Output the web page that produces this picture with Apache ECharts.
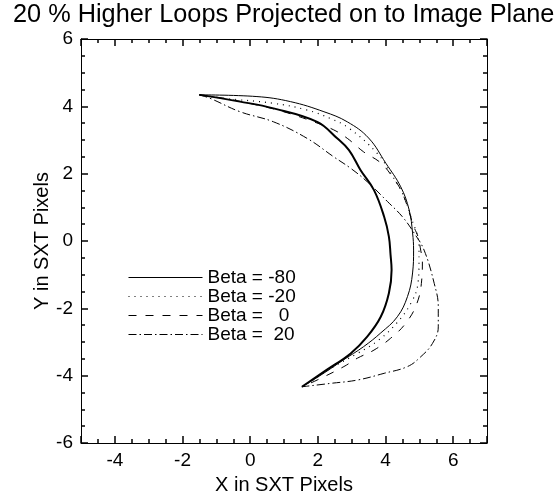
<!DOCTYPE html>
<html><head><meta charset="utf-8">
<script src="https://cdn.jsdelivr.net/npm/echarts@6/dist/echarts.min.js"></script>
<style>html,body{margin:0;padding:0;background:#fff}#c{width:556px;height:495px}</style>
</head><body><div id="c"></div>
<script>
const FONT = "'Liberation Sans', Arial, sans-serif";
const titleText = '20 % Higher Loops Projected on to Image Plane';
const xName = 'X in SXT Pixels';
const yName = 'Y in SXT Pixels';
const legendNames = ['Beta = -80', 'Beta = -20', 'Beta =   0', 'Beta =  20'];

// reference (original) loop, thick solid, not in legend
const baseLoop = [[-1.50,4.34],[-0.30,4.14],[0.69,3.94],[1.98,3.54],[2.57,3.05],[2.92,2.70],[3.26,2.11],[3.66,1.51],[3.96,0.72],[4.10,0.13],[4.15,-0.42],[4.18,-0.86],[4.10,-1.55],[3.86,-2.25],[3.46,-2.84],[2.97,-3.34],[2.26,-3.83],[1.53,-4.33]];
const betaM80 = [[-1.50,4.34],[0.20,4.29],[1.19,4.14],[2.18,3.84],[2.87,3.54],[3.50,3.06],[4.01,2.31],[4.45,1.61],[4.70,0.92],[4.80,0.24],[4.83,-0.27],[4.80,-0.95],[4.65,-1.65],[4.35,-2.25],[3.86,-2.73],[3.35,-3.14],[2.76,-3.53],[2.14,-3.95],[1.53,-4.33]];
const betaM20 = [[-1.50,4.34],[-0.79,4.24],[0.69,4.09],[1.68,3.89],[2.37,3.64],[2.92,3.35],[3.76,2.60],[4.15,2.02],[4.50,1.42],[4.75,0.72],[4.99,-0.17],[4.99,-0.62],[4.96,-1.26],[4.75,-1.85],[4.33,-2.44],[3.80,-2.94],[3.17,-3.34],[2.47,-3.73],[1.78,-4.18],[1.53,-4.33]];
const beta0 = [[-1.50,4.34],[-0.79,4.24],[0.20,4.04],[0.99,3.84],[1.88,3.54],[2.47,3.30],[2.87,3.05],[3.35,2.65],[3.86,2.32],[4.20,1.91],[4.50,1.42],[4.84,0.42],[4.96,0.13],[5.04,-0.27],[5.09,-0.62],[5.07,-1.16],[4.93,-1.85],[4.60,-2.44],[4.15,-2.89],[3.66,-3.24],[3.17,-3.48],[2.77,-3.73],[1.98,-4.13],[1.53,-4.33]];
const beta20 = [[-1.50,4.34],[-1.19,4.24],[-0.30,3.84],[0.69,3.54],[1.68,3.05],[2.47,2.50],[2.97,2.16],[3.46,1.76],[4.06,1.17],[4.50,0.72],[4.85,0.23],[5.14,-0.27],[5.44,-1.26],[5.56,-1.95],[5.56,-2.55],[5.39,-3.04],[5.04,-3.44],[4.65,-3.73],[3.96,-3.93],[3.17,-4.13],[2.37,-4.23],[1.53,-4.33]];

const xMin = -5, xMax = 7, yMin = -6, yMax = 6;

const chart = echarts.init(document.getElementById('c'));
const black = '#000';
const labelFmt = v => (Math.abs(v % 2) < 1e-9 ? String(v) : '');
function ax(labelColor) {
  return {
    axisLine: {show: true, onZero: false, lineStyle: {color: black}},
    axisTick: {show: true, inside: true, length: 7, lineStyle: {color: black, width: 1.5}},
    minorTick: {show: true, splitNumber: 4, length: 4, lineStyle: {color: black, width: 1.5}},
    splitLine: {show: false},
    axisLabel: {show: true, color: labelColor, fontSize: 19, fontFamily: FONT, formatter: labelFmt}
  };
}
const nameStyle = {fontSize: 20, color: black, fontFamily: FONT};
const mkSeries = (name, data, width, type) => ({
  name, type: 'line', data, symbol: 'none', smooth: 0.4,
  lineStyle: {color: black, width, type}
});

chart.setOption({
  animation: false,
  backgroundColor: '#fff',
  title: {text: titleText, left: 13, top: 3, padding: 0,
    textStyle: {fontSize: 25.3, fontWeight: 'normal', color: black, fontFamily: FONT}},
  grid: {left: 81, right: 69, top: 39, bottom: 52, outerBoundsMode: 'none'},
  legend: {orient: 'vertical', left: 128, top: 268, padding: 0, itemGap: 0,
    itemWidth: 74, itemHeight: 12, selectedMode: false,
    itemStyle: {opacity: 0},
    lineStyle: {width: 1},
    data: legendNames,
    textStyle: {fontSize: 19, color: black, fontFamily: FONT, lineHeight: 19}},
  xAxis: [
    Object.assign({type: 'value', min: xMin, max: xMax, splitNumber: 6, position: 'bottom',
      name: xName, nameLocation: 'middle', nameGap: 32, nameMoveOverlap: false,
      nameTextStyle: nameStyle}, ax(black)),
    Object.assign({type: 'value', min: xMin, max: xMax, splitNumber: 6, position: 'top'}, ax('rgba(0,0,0,0)'))
  ],
  yAxis: [
    Object.assign({type: 'value', min: yMin, max: yMax, interval: 2, position: 'left',
      name: yName, nameLocation: 'middle', nameGap: 29, nameMoveOverlap: false,
      nameTextStyle: nameStyle}, ax(black)),
    Object.assign({type: 'value', min: yMin, max: yMax, interval: 2, position: 'right'}, ax('rgba(0,0,0,0)'))
  ],
  series: [
    mkSeries('base', baseLoop, 2, 'solid'),
    mkSeries(legendNames[0], betaM80, 1, 'solid'),
    mkSeries(legendNames[1], betaM20, 1.2, [1, 5]),
    mkSeries(legendNames[2], beta0, 1, [8, 9]),
    mkSeries(legendNames[3], beta20, 1, [8, 3, 1.5, 3])
  ]
});
</script></body></html>
